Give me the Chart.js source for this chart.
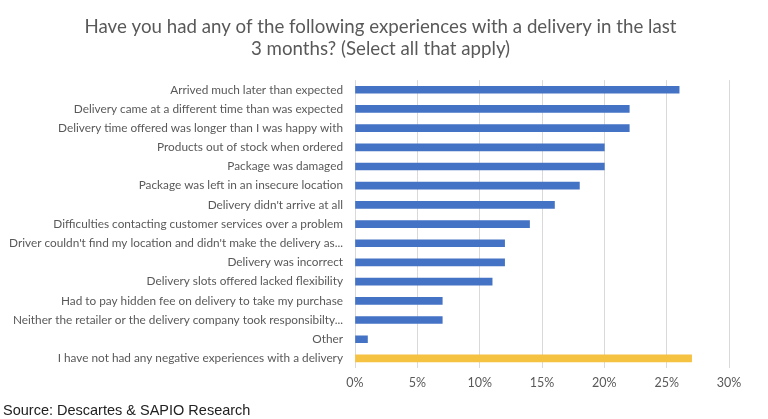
<!DOCTYPE html>
<html>
<head>
<meta charset="utf-8">
<script src="https://cdn.jsdelivr.net/npm/chart.js@4"></script>
<style>
  html, body { margin: 0; padding: 0; background: #ffffff; }
  #wrap { position: relative; width: 768px; height: 419px; }
  #source { position: absolute; left: 3px; top: 402px; font-family: "Liberation Sans", Arial, sans-serif; font-size: 14.5px; color: #222222; white-space: nowrap; }
</style>
</head>
<body>
<div id="wrap">
  <canvas id="c" width="768" height="419"></canvas>
  <div id="source">Source: Descartes &amp; SAPIO Research</div>
</div>
<script>
const categories = [
  "Arrived much later than expected",
  "Delivery came at a different time than was expected",
  "Delivery time offered was longer than I was happy with",
  "Products out of stock when ordered",
  "Package was damaged",
  "Package was left in an insecure location",
  "Delivery didn't arrive at all",
  "Difficulties contacting customer services over a problem",
  "Driver couldn't find my location and didn't make the delivery as...",
  "Delivery was incorrect",
  "Delivery slots offered lacked flexibility",
  "Had to pay hidden fee on delivery to take my purchase",
  "Neither the retailer or the delivery company took responsibilty...",
  "Other",
  "I have not had any negative experiences with a delivery"
];
const values = [26, 22, 22, 20, 20, 18, 16, 14, 12, 12, 11, 7, 7, 1, 27];
const barColors = ["#4472C4","#4472C4","#4472C4","#4472C4","#4472C4","#4472C4","#4472C4","#4472C4","#4472C4","#4472C4","#4472C4","#4472C4","#4472C4","#4472C4","#F5C242"];
const xTicks = [0, 5, 10, 15, 20, 25, 30];
const titleLines = ["Have you had any of the following experiences with a delivery in the last", "3 months? (Select all that apply)"];

new Chart(document.getElementById("c"), {
  type: "bar",
  data: {
    labels: categories,
    datasets: [{
      data: values,
      backgroundColor: barColors,
      borderWidth: 0,
      barThickness: 7
    }]
  },
  options: {
    indexAxis: "y",
    responsive: false,
    animation: false,
    layout: { padding: { left: 0, right: 7, top: 0, bottom: 22 } },
    plugins: {
      legend: { display: false },
      tooltip: { enabled: false },
      title: {
        display: true,
        text: titleLines,
        color: "#595959",
        font: { family: "Lato", size: 18.7, weight: "normal", lineHeight: 1.18 },
        padding: { top: 16, bottom: 20 }
      }
    },
    scales: {
      x: {
        min: 0,
        max: 30,
        afterBuildTicks: (scale) => { scale.ticks = xTicks.map(v => ({ value: v })); },
        ticks: {
          callback: (v) => v + "%",
          color: "#595959",
          font: { family: "Lato", size: 12.5 },
          padding: 7,
          maxRotation: 0
        },
        grid: { color: "#d9d9d9", lineWidth: 1, drawTicks: false },
        border: { display: false }
      },
      y: {
        afterFit: (scale) => { scale.width = 355; },
        ticks: {
          color: "#595959",
          font: { family: "Lato", size: 11.8 },
          padding: 12,
          autoSkip: false
        },
        grid: { display: false, drawTicks: false },
        border: { display: false }
      },
      yRight: {
        type: "category",
        position: "right",
        labels: categories,
        afterFit: (scale) => { scale.width = 32; },
        ticks: { display: false },
        grid: { display: false, drawTicks: false },
        border: { display: false }
      }
    }
  }
});
</script>
</body>
</html>
